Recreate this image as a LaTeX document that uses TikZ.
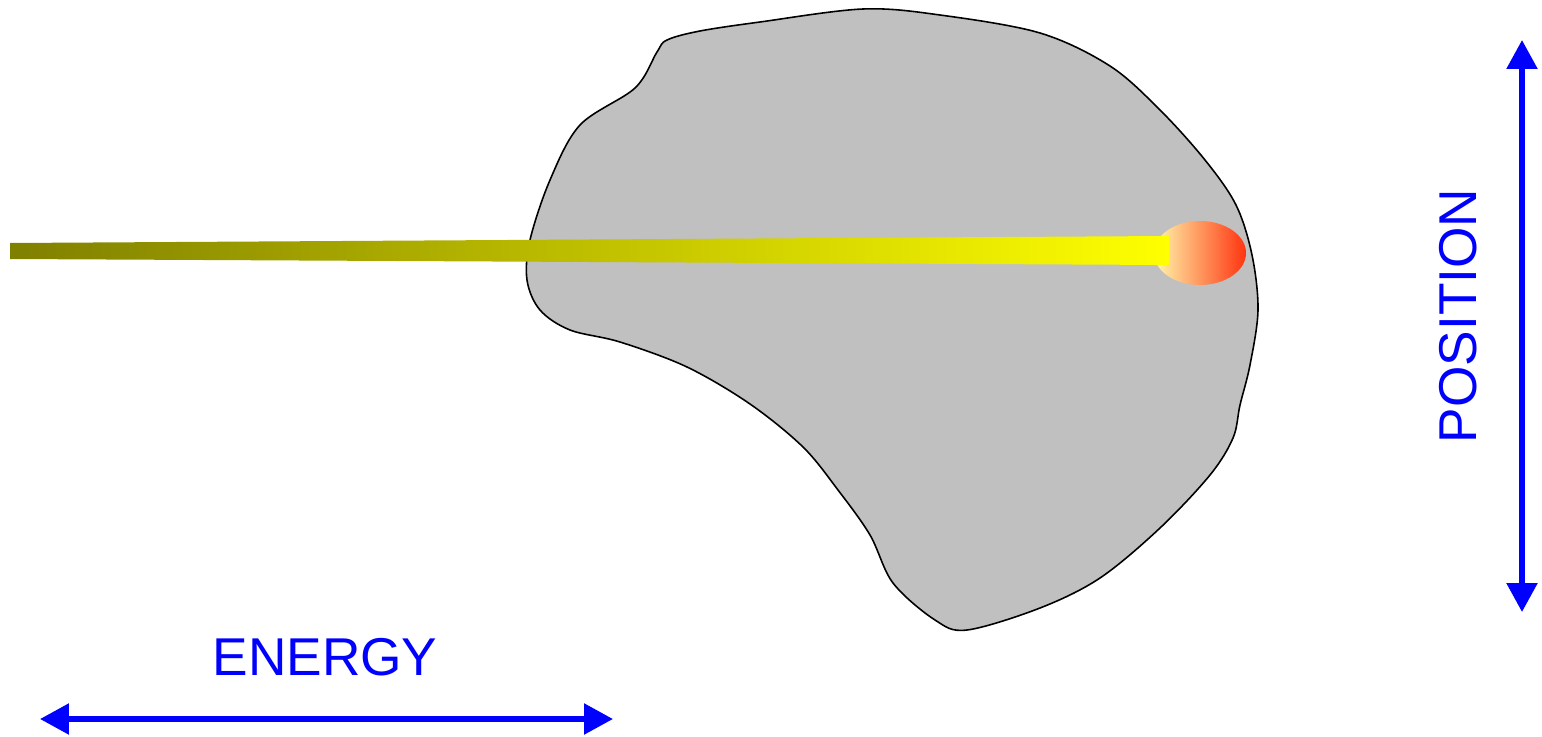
\documentclass[tikz,border=0pt]{standalone}
\usepackage{fontspec}
\setmainfont{Liberation Sans}
\usetikzlibrary{arrows.meta}

\definecolor{silvergray}{RGB}{192,192,192}
\definecolor{glowcold}{RGB}{255,248,172}
\definecolor{glowwarm}{RGB}{255,200,125}
\definecolor{glowhot}{RGB}{255,52,16}

\tikzset{
	axisarrow/.style={draw=blue, line width=0.11cm,
		{Triangle[length=0.58cm,width=0.6cm]}-{Triangle[length=0.58cm,width=0.6cm]}},
	axislabel/.style={text=blue, font=\fontsize{30.3}{36}\selectfont, inner sep=0pt}
}

\begin{document}
\begin{tikzpicture}[x=0.02cm, y=-0.02cm]
		\useasboundingbox (0,0) rectangle (1542,737);
		
		% target body
		\filldraw[line width=0.9pt, fill=silvergray] plot[smooth cycle, tension=0.55] coordinates {
			(667,40) (700,31) (760,22) (863,9) (940,15) (1040,33)
			(1110,66) (1160,110) (1205,160) (1236,205) (1252,255) (1258,310)
			(1250,365) (1240,405) (1233,438) (1210,475) (1160,528)
			(1100,578) (1040,608) (967,630) (935,620) (893,583)
			(870,535) (838,490) (803,447) (750,404) (687,367)
			(620,342) (570,330) (540,310) (527,280) (530,240)
			(550,180) (580,125) (635,88) (657,52)};
		
		% hot spot at the end of the beam
		\coordinate (S) at (1200,253);
		\shade[left color=glowcold, middle color=glowwarm, right color=glowhot] (S) ellipse [x radius=46, y radius=32];
		
		% incoming beam
		\coordinate (A) at (10,243);
		\coordinate (B) at (10,259);
		\coordinate (C) at (1169,265);
		\coordinate (D) at (1169,236);
		\shade[left color=olive, right color=yellow] (A) -- (B) -- (C) -- (D) -- cycle;
		
		% axes
		\coordinate (E1) at (40,719);
		\coordinate (E2) at (613,719);
		\coordinate (P1) at (1522,40);
		\coordinate (P2) at (1522,612);
		\draw[axisarrow] (E1) -- (E2);
		\draw[axisarrow] (P1) -- (P2);
		
		\node[axislabel] (energy) at (325,657) {ENERGY};
		\node[axislabel, rotate=90] (position) at (1458,316) {POSITION};
		\end{tikzpicture}
\end{document}
